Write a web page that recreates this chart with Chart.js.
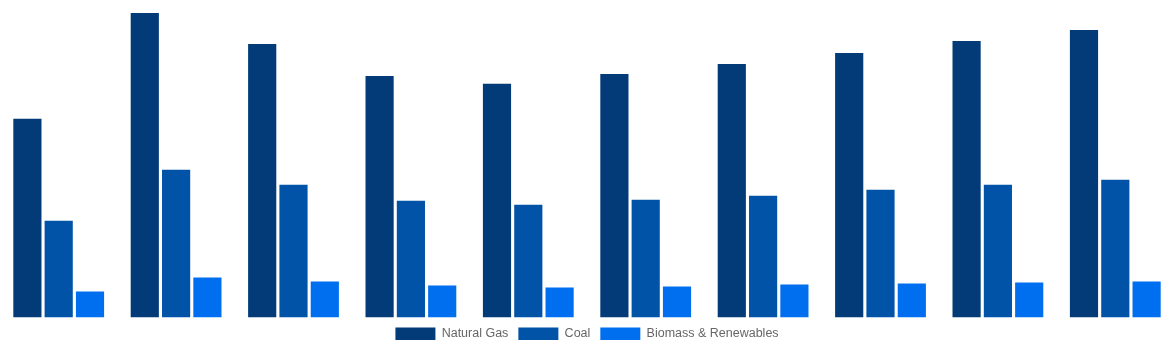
<!DOCTYPE html>
<html>
<head>
<meta charset="utf-8">
<style>
  html, body { margin: 0; padding: 0; background: #ffffff; }
  #wrap { width: 1174px; height: 350px; position: relative; }
</style>
<script src="https://cdn.jsdelivr.net/npm/chart.js@4.4.1/dist/chart.umd.min.js"></script>
</head>
<body>
<div id="wrap"><canvas id="c"></canvas></div>
<script>
const categories = ["1", "2", "3", "4", "5", "6", "7", "8", "9", "10"];
const seriesNames = ["Natural Gas", "Coal", "Biomass & Renewables"];
const naturalGas = [199, 305, 274, 242, 234, 244, 254, 265, 277, 288];
const coal = [97, 148, 133, 117, 113, 118, 122, 128, 133, 138];
const biomass = [26, 40, 36, 32, 30, 31, 33, 34, 35, 36];
const yMax = 318;
const colors = ["#023b78", "#0053a6", "#006fef"];

new Chart(document.getElementById("c"), {
  type: "bar",
  data: {
    labels: categories,
    datasets: [
      { label: seriesNames[0], data: naturalGas, backgroundColor: colors[0], borderWidth: 0 },
      { label: seriesNames[1], data: coal, backgroundColor: colors[1], borderWidth: 0 },
      { label: seriesNames[2], data: biomass, backgroundColor: colors[2], borderWidth: 0 }
    ]
  },
  options: {
    responsive: true,
    maintainAspectRatio: false,
    animation: false,
    layout: { padding: 0 },
    scales: {
      x: { display: false },
      y: { display: false, min: 0, max: yMax }
    },
    plugins: {
      legend: {
        position: "bottom",
        labels: { color: "#666", font: { size: 12.5, family: "'Liberation Sans', Arial, sans-serif" } }
      },
      tooltip: { enabled: false }
    }
  }
});
</script>
</body>
</html>
